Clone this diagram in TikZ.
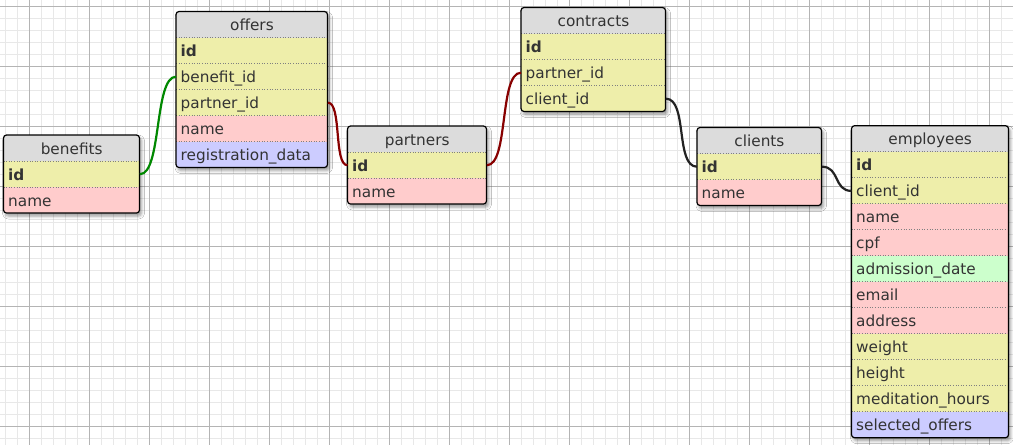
\documentclass[tikz,border=0pt]{standalone}
\usepackage{fontspec}
\setmainfont{DejaVu Sans}
\usetikzlibrary{shadows.blur}
\definecolor{headgray}{HTML}{DCDCDC}
\definecolor{keyyel}{HTML}{EEEEAA}
\definecolor{txtpink}{HTML}{FFCCCC}
\definecolor{datblue}{HTML}{CCCCFF}
\definecolor{datgreen}{HTML}{CCFFCC}
\definecolor{inkgray}{HTML}{333333}
\definecolor{gridminor}{HTML}{E8E8E8}
\definecolor{gridmajor}{HTML}{B4B4B4}
\definecolor{fkgreen}{HTML}{008800}
\definecolor{fkred}{HTML}{880000}
\definecolor{fkblack}{HTML}{222222}

% table: name, top left, width, rows, title, list of field/colour
\newcommand{\dbtable}[6]{%
  \pgfmathsetmacro\tabw{#3-9}%
  \pgfmathsetmacro\tabh{26*(#4+1)}%
  \begin{scope}[shift={#2}]
    \fill[white,rounded corners=3pt,blur shadow={shadow xshift=2pt,shadow yshift=-3pt,shadow blur radius=3pt,shadow opacity=40}] (0,0) rectangle (#3,\tabh);
    \begin{scope}
      \clip[rounded corners=3pt] (0,0) rectangle (#3,\tabh);
      \node[cell,fill=headgray,align=center,text width=\tabw pt,minimum width=#3pt] (#1) at (0,0) {#5};
      \foreach \lbl/\col [count=\i] in {#6} {
        \node[cell,fill=\col,text width=\tabw pt,minimum width=#3pt] (#1-\i) at (0,26*\i) {\lbl};
        \draw[sepline] (#1-\i.north west) -- (#1-\i.north east);
      }
    \end{scope}
    \draw[line width=1.2pt,rounded corners=3pt] (0,0) rectangle (#3,\tabh);
  \end{scope}}

\begin{document}
\begin{tikzpicture}[x=1pt,y=-1pt,
    cell/.style={anchor=north west,minimum height=26pt,inner xsep=4.5pt,inner ysep=0pt,
      text height=12pt,text depth=0pt,align=left,text=inkgray,font=\fontsize{15.3}{18}\selectfont},
    sepline/.style={gray,dotted,line width=0.6pt},
    fk/.style={line width=2.2pt}]
  \useasboundingbox (0,0) rectangle (1013,445);
  \fill[white] (0,0) rectangle (1013,445);
  % grid
  \foreach \gx in {5.5,17.5,...,1013} \draw[gridminor,line width=1pt] (\gx,0) -- (\gx,445);
  \foreach \gy in {6.3,18.3,...,445} \draw[gridminor,line width=1pt] (0,\gy) -- (1013,\gy);
  \foreach \gx in {29.5,89.5,...,1013} \draw[gridmajor,line width=1pt] (\gx,0) -- (\gx,445);
  \foreach \gy in {6.3,66.3,...,445} \draw[gridmajor,line width=1pt] (0,\gy) -- (1013,\gy);
  % tables
  \dbtable{benefits}{(3.5,135)}{136}{2}{benefits}{{\textbf{id}}/keyyel,name/txtpink}
  \dbtable{offers}{(176,11.5)}{151.5}{5}{offers}{{\textbf{id}}/keyyel,benefit\_id/keyyel,partner\_id/keyyel,name/txtpink,registration\_data/datblue}
  \dbtable{partners}{(347.5,126)}{139}{2}{partners}{{\textbf{id}}/keyyel,name/txtpink}
  \dbtable{contracts}{(521,7.5)}{144.5}{3}{contracts}{{\textbf{id}}/keyyel,partner\_id/keyyel,client\_id/keyyel}
  \dbtable{clients}{(697,127.5)}{124.5}{2}{clients}{{\textbf{id}}/keyyel,name/txtpink}
  \dbtable{employees}{(851.5,125.7)}{157}{11}{employees}{{\textbf{id}}/keyyel,client\_id/keyyel,name/txtpink,cpf/txtpink,admission\_date/datgreen,email/txtpink,address/txtpink,weight/keyyel,height/keyyel,meditation\_hours/keyyel,selected\_offers/datblue}
  % relations
  \draw[fk,fkgreen] (benefits-1.east) .. controls +(22,0) and +(-22,0) .. (offers-2.west);
  \draw[fk,fkred] (offers-3.east) .. controls +(14,0) and +(-14,0) .. (partners-1.west);
  \draw[fk,fkred] (partners-1.east) .. controls +(22,0) and +(-22,0) .. (contracts-2.west);
  \draw[fk,fkblack] (contracts-3.east) .. controls +(22,0) and +(-22,0) .. (clients-1.west);
  \draw[fk,fkblack] (clients-1.east) .. controls +(18,0) and +(-18,0) .. (employees-2.west);
\end{tikzpicture}
\end{document}
